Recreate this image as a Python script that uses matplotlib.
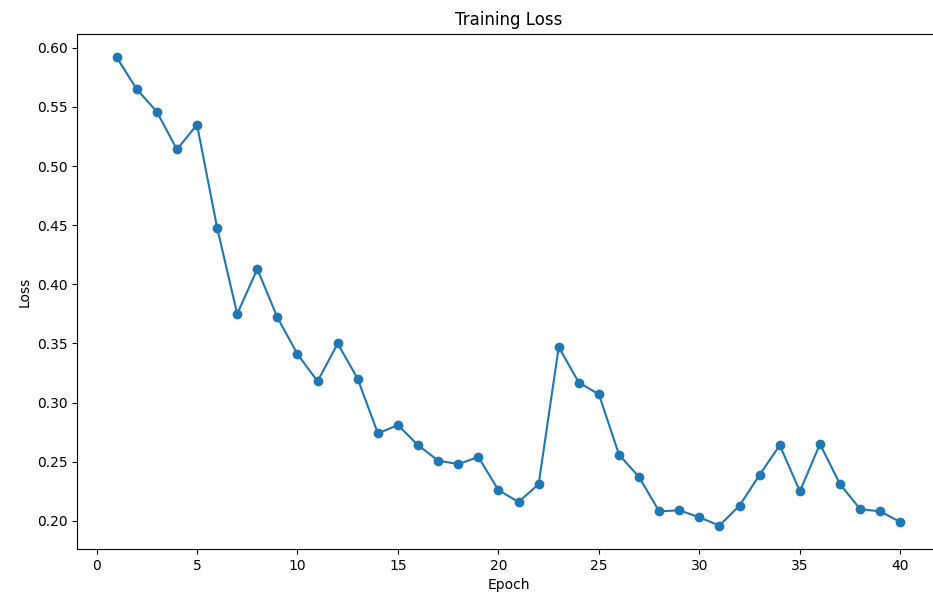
import matplotlib
matplotlib.use('Agg')
import matplotlib.pyplot as plt

epochs = list(range(1, 41))
loss = [0.592, 0.565, 0.546, 0.514, 0.535, 0.448, 0.375, 0.413, 0.372, 0.341,
        0.318, 0.350, 0.320, 0.274, 0.281, 0.264, 0.251, 0.248, 0.254, 0.226,
        0.216, 0.231, 0.347, 0.317, 0.307, 0.256, 0.237, 0.208, 0.209, 0.203,
        0.196, 0.213, 0.239, 0.264, 0.225, 0.265, 0.231, 0.210, 0.208, 0.199]

fig = plt.figure(figsize=(9.33, 6.04), dpi=100)
# axes run slightly past the right edge, as in the reference crop
ax = fig.add_axes([0.083, 0.091, 0.924, 0.853])
ax.plot(epochs, loss, marker='o')
ax.set_title('Training Loss')
ax.set_xlabel('Epoch')
ax.set_ylabel('Loss')
fig.savefig('out.png')
